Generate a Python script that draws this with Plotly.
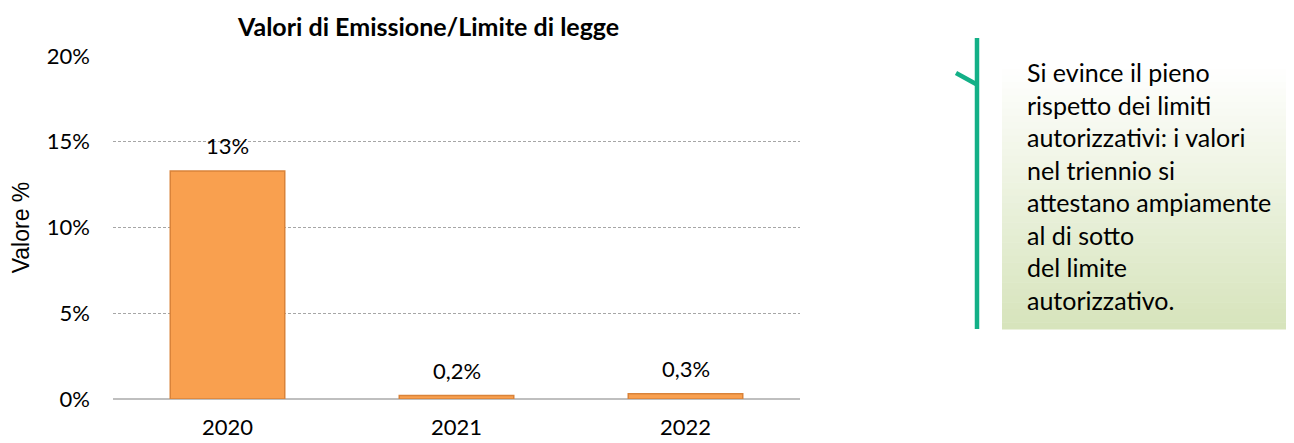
import plotly.graph_objects as go

categories = ["2020", "2021", "2022"]
values = [0.133, 0.002, 0.003]
value_labels = ["13%", "0,2%", "0,3%"]
tick_vals = [0, 0.05, 0.10, 0.15, 0.20]
tick_text = ["0%", "5%", "10%", "15%", "20%"]
title_text = "Valori di Emissione/Limite di legge"
y_title = "Valore %"
note_lines = [
    "Si evince il pieno",
    "rispetto dei limiti",
    "autorizzativi: i valori",
    "nel triennio si",
    "attestano ampiamente",
    "al di sotto",
    "del limite",
    "autorizzativo.",
]

OFF = 8  # page body margin
W, H = 1294 - OFF, 443 - OFF
L, T = 113 - OFF, 56 - OFF
PR, PB = 800 - OFF, 399 - OFF
R, B = W - PR, H - PB
PW, PH = PR - L, PB - T


def px(x):
    return (x - OFF - L) / PW


def py(y):
    return (PB - (y - OFF)) / PH


FONT = "Lato"

fig = go.Figure()
fig.add_trace(go.Bar(
    x=categories, y=values, width=0.5,
    marker=dict(color="#F9A04F", line=dict(color="#D9833A", width=1.5)),
    hoverinfo="skip",
))

for i, (v, t) in enumerate(zip(values, value_labels)):
    fig.add_annotation(x=i, y=v, text=t, showarrow=False, yshift=25,
                       font=dict(family=FONT, size=22, color="#000000"))

shapes = []
# gradient note box
x0, x1, top, bot = 1002, 1294, 62, 329
n = 40
c_top = (255, 255, 255)
c_bot = (215, 228, 188)
for i in range(n):
    f = i / (n - 1)
    col = tuple(int(round(a + (b - a) * f)) for a, b in zip(c_top, c_bot))
    ya = top + (bot - top) * i / n
    yb = top + (bot - top) * (i + 1) / n + 0.5
    shapes.append(dict(type="rect", xref="paper", yref="paper",
                       x0=px(x0), x1=px(x1), y0=py(yb), y1=py(ya),
                       line=dict(width=0), fillcolor="rgb(%d,%d,%d)" % col, layer="below"))
# green bracket line
shapes.append(dict(type="line", xref="paper", yref="paper",
                   x0=px(977), x1=px(977), y0=py(38), y1=py(329),
                   line=dict(color="#13B087", width=4.5)))
shapes.append(dict(type="line", xref="paper", yref="paper",
                   x0=px(956), x1=px(976), y0=py(73), y1=py(84),
                   line=dict(color="#13B087", width=4.5)))

line_y0, line_dy = 72, 32.5
for i, t in enumerate(note_lines):
    fig.add_annotation(xref="paper", yref="paper", x=px(1025), y=py(line_y0 + i * line_dy),
                       xanchor="left", yanchor="middle", text=t, showarrow=False,
                       font=dict(family=FONT, size=25, color="#000000"))

fig.add_annotation(xref="paper", yref="paper", x=px(428), y=py(26), text="<b>%s</b>" % title_text,
                   showarrow=False, xanchor="center", yanchor="middle",
                   font=dict(family=FONT, size=25, color="#000000"))

fig.update_layout(
    width=W, height=H,
    margin=dict(l=L, r=R, t=T, b=B, autoexpand=False),
    paper_bgcolor="white", plot_bgcolor="white",
    showlegend=False,
    shapes=shapes,
    xaxis=dict(type="category", range=[-0.5, 2.5], showgrid=False, showline=False,
               ticks="", zeroline=False, automargin=False, ticklabelstandoff=13,
               tickfont=dict(family=FONT, size=22, color="#000000")),
    yaxis=dict(range=[0, 0.2], tickvals=tick_vals, ticktext=tick_text,
               showgrid=True, gridcolor="#A6A6A6", gridwidth=1, griddash="3px,2px",
               zeroline=True, zerolinecolor="#BFBFBF", zerolinewidth=2,
               showline=False, ticks="", ticklabelstandoff=22, automargin=False,
               tickfont=dict(family=FONT, size=22, color="#000000"),
               title=dict(text=y_title, standoff=12,
                          font=dict(family="Liberation Sans", size=23, color="#000000"))),
)

fig.write_html("out.html")
